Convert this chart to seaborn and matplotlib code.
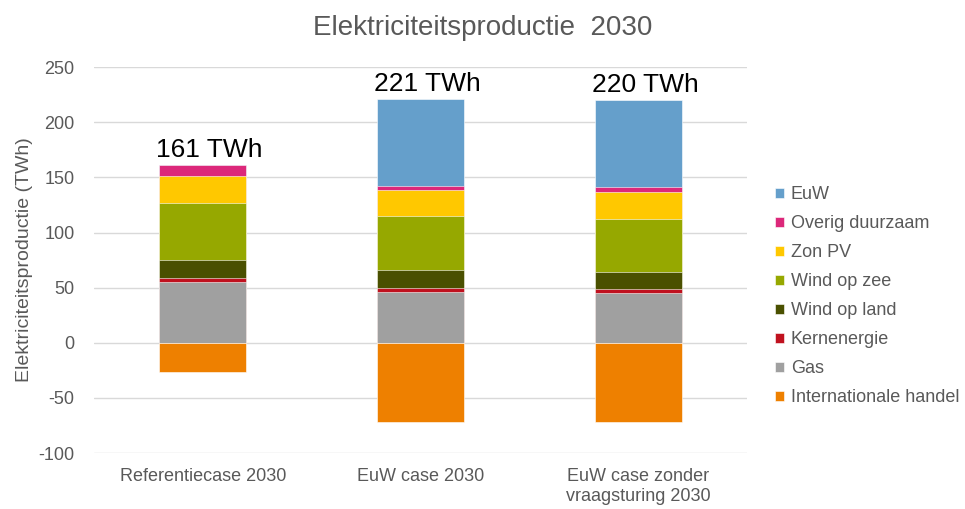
import matplotlib
matplotlib.use("Agg")
import matplotlib.pyplot as plt
import seaborn as sns
import numpy as np
import pandas as pd

# categories (x axis)
cases = ['Referentiecase 2030', 'EuW case 2030', 'EuW case zonder\nvraagsturing 2030']

# stacked positive sources, bottom to top (TWh)
gas = [55, 46.5, 45.5]
kernenergie = [4, 3, 3]
wind_land = [16, 16.5, 16]
wind_zee = [52, 49, 48]
zon_pv = [24, 24, 24.5]
overig = [10, 3.5, 4]
euw = [0, 78.5, 79]
# negative
handel = [-26.5, -72, -72]

totals_label = ['161 TWh', '221 TWh', '220 TWh']

series = [
    ('Gas', gas, '#A0A0A0'),
    ('Kernenergie', kernenergie, '#C0111F'),
    ('Wind op land', wind_land, '#4A5000'),
    ('Wind op zee', wind_zee, '#96A800'),
    ('Zon PV', zon_pv, '#FFC800'),
    ('Overig duurzaam', overig, '#DC287A'),
    ('EuW', euw, '#659FCB'),
]

sns.set_style('white')
plt.rcParams['font.family'] = ['Liberation Sans', 'DejaVu Sans']
plt.rcParams['axes.unicode_minus'] = False
text_grey = '#595959'

fig = plt.figure(figsize=(9.65, 5.09), dpi=100)
ax = fig.add_axes([0.0974, 0.110, 0.677, 0.758])

# cumulative tops, draw largest first so smaller stacks overlay
cum = np.cumsum(np.array([s[1] for s in series]), axis=0)
for i in range(len(series) - 1, -1, -1):
    name, _, col = series[i]
    df = pd.DataFrame({'case': cases, 'val': cum[i]})
    sns.barplot(data=df, x='case', y='val', color=col, width=0.4,
                label=name, ax=ax, saturation=1, edgecolor='#FFFFFF', linewidth=0.4)

df_h = pd.DataFrame({'case': cases, 'val': handel})
sns.barplot(data=df_h, x='case', y='val', color='#EE8000', width=0.4,
            label='Internationale handel', ax=ax, saturation=1,
            edgecolor='#FFFFFF', linewidth=0.4)

for i, lab in enumerate(totals_label):
    ax.text(i + 0.03, cum[-1][i] + 3, lab, ha='center', va='bottom',
            fontsize=19, color='black')

ax.set_ylim(-100, 250)
ax.set_xlim(-0.5, 2.5)
ax.set_yticks(np.arange(-100, 251, 50))
ax.grid(axis='y', color='#D9D9D9', linewidth=1)
ax.set_axisbelow(True)
for sp in ax.spines.values():
    sp.set_visible(False)
ax.tick_params(axis='y', length=0, labelsize=13, colors=text_grey, pad=14)
ax.tick_params(axis='x', length=0, labelsize=13, colors=text_grey, pad=11)
ax.set_xlabel('')
ax.set_ylabel('Elektriciteitsproductie (TWh)', fontsize=14, color=text_grey, labelpad=4)

# title is centred on the whole figure
fig.text(0.5, 0.945, 'Elektriciteitsproductie  2030', ha='center', va='center',
         fontsize=20, color=text_grey)

leg = ax.legend(loc='upper left', bbox_to_anchor=(0.786, 0.666),
                bbox_transform=fig.transFigure, frameon=False, fontsize=13,
                handlelength=0.5, handleheight=0.5, handletextpad=0.4,
                labelspacing=0.665)
for t in leg.get_texts():
    t.set_color(text_grey)

fig.savefig('out.png', dpi=100)
